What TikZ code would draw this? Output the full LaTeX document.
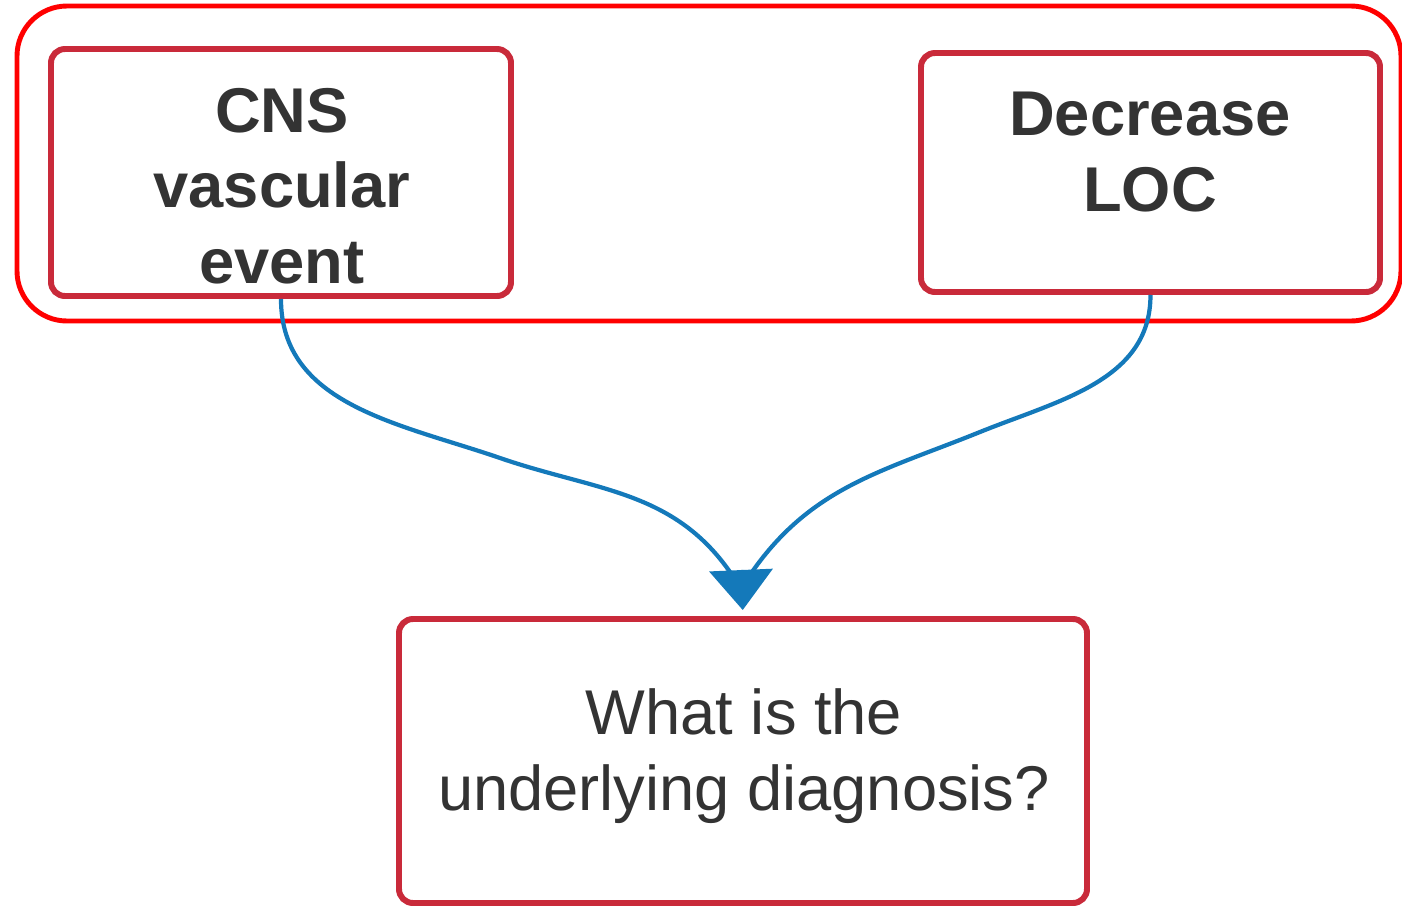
\documentclass[tikz,border=0pt]{standalone}
\usepackage{fontspec}
\setmainfont{Liberation Sans}
\usepackage{xcolor}
\usepackage{tikz}
\usetikzlibrary{positioning,arrows.meta,calc}
\definecolor{cbox}{HTML}{C92A3A}
\definecolor{cgrp}{HTML}{FF0000}
\definecolor{clink}{HTML}{1479BA}
\definecolor{ctext}{HTML}{333333}

\begin{document}
\begin{tikzpicture}[
  box/.style={draw=cbox, line width=1.7pt, rounded corners=0.14cm, inner sep=0pt},
  grpbox/.style={draw=cgrp, line width=1.4pt, rounded corners=0.5cm, inner sep=0pt},
  lbl/.style={text=ctext, align=center, font=\fontsize{18}{21.5}\selectfont},
  link/.style={draw=clink, line width=1.2pt},
]
  \useasboundingbox (0,0) rectangle (14.02,-9.06);
  % --- khung nhóm + hai ô trên ---
  \node[grpbox, minimum width=13.84cm, minimum height=3.15cm] (grp) at (7.09,-1.635) {};
  \node[box, minimum width=4.60cm, minimum height=2.47cm] (cns) at (2.81,-1.725) {};
  \node[box, minimum width=4.59cm, minimum height=2.39cm] (loc) at (11.505,-1.725) {};
  \node[lbl, font=\fontsize{18}{21.5}\selectfont\bfseries] (cnst) at (2.82,-1.86) {CNS\\vascular\\event};
  \node[lbl, font=\fontsize{18}{21.5}\selectfont\bfseries] (loct) at (11.50,-1.52) {Decrease\\LOC};
  % --- ô dưới ---
  \node[box, minimum width=6.88cm, minimum height=2.84cm] (ask) at (7.43,-7.61) {};
  \node[lbl] (askt) at (7.44,-7.56) {What is the\\underlying diagnosis?};
  % --- hai đường nối hội tụ ---
  \coordinate (lmid) at (5.00,-4.58);
  \coordinate (rmid) at (9.80,-4.32);
  \coordinate (lend) at (7.30,-5.72);
  \coordinate (rend) at (7.52,-5.72);
  \coordinate (merge) at (7.41,-5.70);
  \draw[link] (cns.south) to[out=-90,in=161] (lmid) to[out=-19,in=125] (lend);
  \draw[link] (loc.south) to[out=-90,in=22] (rmid) to[out=-158,in=55] (rend);
  \draw[link, -{Triangle[width=0.63cm, length=0.40cm]}, shorten >=0.06cm] (merge) -- (ask.north);
\end{tikzpicture}
\end{document}
